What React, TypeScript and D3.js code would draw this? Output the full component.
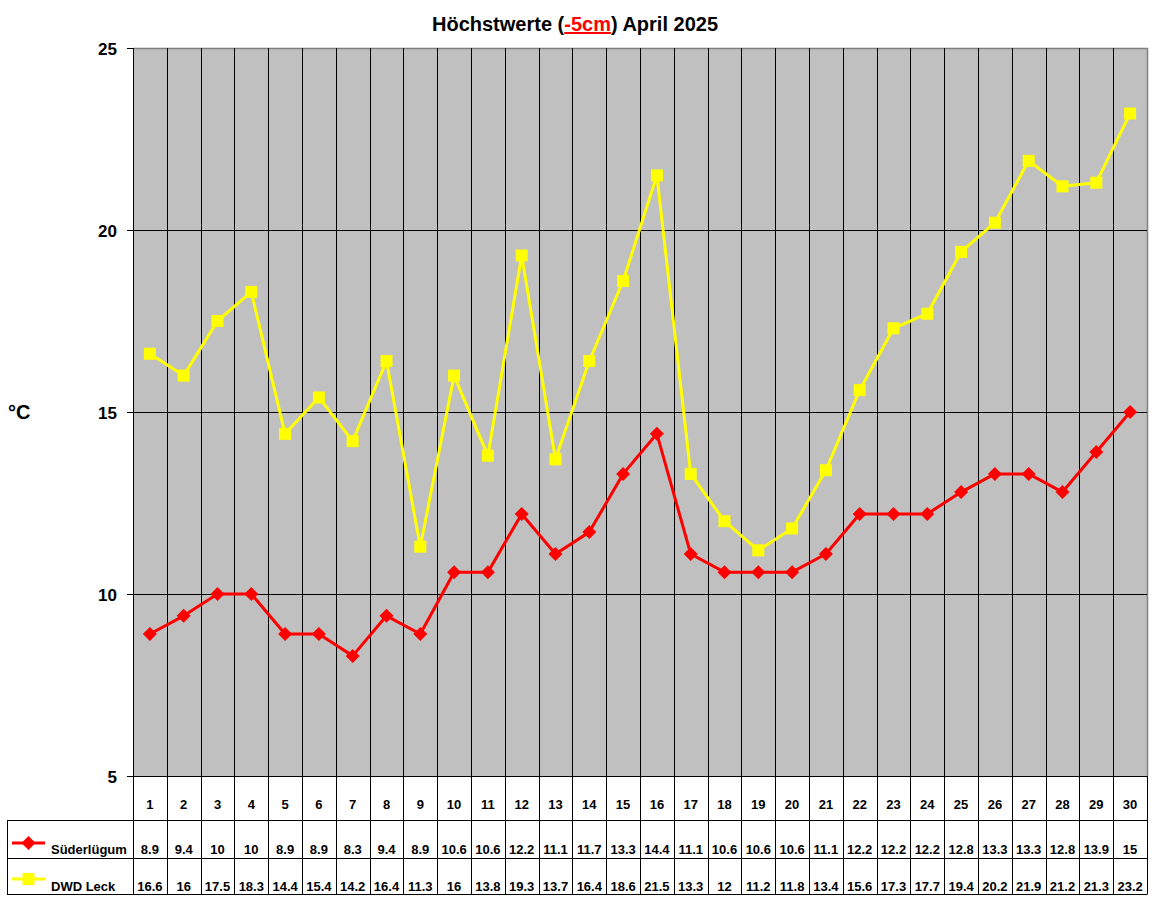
import { useEffect, useRef } from "react";
import * as d3 from "d3";

const days = d3.range(1, 31).map(String);
const suederluegum = [8.9, 9.4, 10, 10, 8.9, 8.9, 8.3, 9.4, 8.9, 10.6, 10.6, 12.2, 11.1, 11.7, 13.3, 14.4, 11.1, 10.6, 10.6, 10.6, 11.1, 12.2, 12.2, 12.2, 12.8, 13.3, 13.3, 12.8, 13.9, 15];
const dwdLeck = [16.6, 16, 17.5, 18.3, 14.4, 15.4, 14.2, 16.4, 11.3, 16, 13.8, 19.3, 13.7, 16.4, 18.6, 21.5, 13.3, 12, 11.2, 11.8, 13.4, 15.6, 17.3, 17.7, 19.4, 20.2, 21.9, 21.2, 21.3, 23.2];
const yTicks = [5, 10, 15, 20, 25];

const series = [
  { name: "Süderlügum", values: suederluegum, color: "#ff0000", marker: "diamond" },
  { name: "DWD Leck", values: dwdLeck, color: "#ffff00", marker: "square" },
];

const W = 1152;
const H = 900;
const FONT = "'Liberation Sans', Arial, sans-serif";

export default function App() {
  const svgRef = useRef<SVGSVGElement>(null);

  useEffect(() => {
    if (!svgRef.current) return;
    const svg = d3.select(svgRef.current);
    svg.selectAll("*").remove();

    const left = 133;
    const right = 1147;
    const top = 48;
    const bottom = 776;
    const rowLines = [820, 858, 894];
    const tableLeft = 7;

    const x = d3.scaleBand().domain(days).range([left, right]);
    const y = d3.scaleLinear().domain([5, 25]).range([bottom, top]);
    const cx = (d: string) => x(d)! + x.bandwidth() / 2;

    svg.append("rect").attr("width", W).attr("height", H).attr("fill", "#fff");

    // plot background
    svg.append("rect")
      .attr("x", left).attr("y", top)
      .attr("width", right - left).attr("height", bottom - top)
      .attr("fill", "#c0c0c0");

    // top / right border
    svg.append("path")
      .attr("d", `M${left},${top + 0.5}H${right + 0.5}V${bottom}`)
      .attr("fill", "none").attr("stroke", "#808080").attr("stroke-width", 1.5);

    // horizontal gridlines + ticks
    yTicks.forEach((t) => {
      const yy = Math.round(y(t)) + 0.5;
      svg.append("line")
        .attr("x1", left - 6).attr("x2", t === 25 ? left : right).attr("y1", yy).attr("y2", yy)
        .attr("stroke", "#000");
      svg.append("text")
        .attr("x", 117).attr("y", yy + 6)
        .attr("text-anchor", "end")
        .attr("font-family", FONT).attr("font-weight", 700).attr("font-size", 17)
        .text(String(t));
    });

    // vertical category lines (through table)
    days.forEach((d) => {
      const xx = Math.round(x(d)!) + 0.5;
      svg.append("line")
        .attr("x1", xx).attr("x2", xx).attr("y1", top).attr("y2", rowLines[2])
        .attr("stroke", "#000");
    });
    svg.append("line")
      .attr("x1", right + 0.5).attr("x2", right + 0.5).attr("y1", bottom).attr("y2", rowLines[2])
      .attr("stroke", "#000");

    // table rows
    rowLines.forEach((r) => {
      svg.append("line")
        .attr("x1", tableLeft).attr("x2", right + 0.5).attr("y1", r + 0.5).attr("y2", r + 0.5)
        .attr("stroke", "#000");
    });
    svg.append("line")
      .attr("x1", tableLeft + 0.5).attr("x2", tableLeft + 0.5).attr("y1", rowLines[0]).attr("y2", rowLines[2])
      .attr("stroke", "#000");

    // day labels
    days.forEach((d) => {
      svg.append("text")
        .attr("x", cx(d)).attr("y", 809)
        .attr("text-anchor", "middle")
        .attr("font-family", FONT).attr("font-weight", 700).attr("font-size", 13)
        .text(d);
    });

    const rowText = [854, 891];
    const rowMarkerY = [843, 879];

    series.forEach((s, si) => {
      const line = d3.line<number>()
        .x((_, i) => cx(days[i]))
        .y((v) => y(v));
      svg.append("path")
        .datum(s.values)
        .attr("d", line)
        .attr("fill", "none")
        .attr("stroke", s.color)
        .attr("stroke-width", 3)
        .attr("stroke-linejoin", "round");

      const drawMarker = (mx: number, my: number) => {
        if (s.marker === "diamond") {
          svg.append("path")
            .attr("d", `M${mx},${my - 7}L${mx + 7},${my}L${mx},${my + 7}L${mx - 7},${my}Z`)
            .attr("fill", s.color);
        } else {
          svg.append("rect")
            .attr("x", mx - 6).attr("y", my - 6)
            .attr("width", 12).attr("height", 12)
            .attr("fill", s.color);
        }
      };

      s.values.forEach((v, i) => drawMarker(cx(days[i]), y(v)));

      // table values
      s.values.forEach((v, i) => {
        svg.append("text")
          .attr("x", cx(days[i])).attr("y", rowText[si])
          .attr("text-anchor", "middle")
          .attr("font-family", FONT).attr("font-weight", 700).attr("font-size", 13)
          .text(String(v));
      });

      // legend key
      svg.append("line")
        .attr("x1", 12).attr("x2", 45).attr("y1", rowMarkerY[si]).attr("y2", rowMarkerY[si])
        .attr("stroke", s.color).attr("stroke-width", 3);
      drawMarker(28.5, rowMarkerY[si]);
      svg.append("text")
        .attr("x", 51).attr("y", rowText[si])
        .attr("font-family", FONT).attr("font-weight", 700).attr("font-size", 13)
        .text(s.name);
    });

    // axis title
    svg.append("text")
      .attr("x", 8).attr("y", 419)
      .attr("font-family", FONT).attr("font-weight", 700).attr("font-size", 20)
      .text("°C");

    // chart title
    const title = svg.append("text")
      .attr("x", 575).attr("y", 31)
      .attr("text-anchor", "middle")
      .attr("font-family", FONT).attr("font-weight", 700).attr("font-size", 20);
    title.append("tspan").text("Höchstwerte (");
    title.append("tspan").attr("fill", "#ff0000").attr("text-decoration", "underline").text("-5cm");
    title.append("tspan").text(") April 2025");
  }, []);

  return (
    <div style={{ position: "absolute", left: 0, top: 0 }}>
      <svg ref={svgRef} width={W} height={H} style={{ display: "block" }} />
    </div>
  );
}
